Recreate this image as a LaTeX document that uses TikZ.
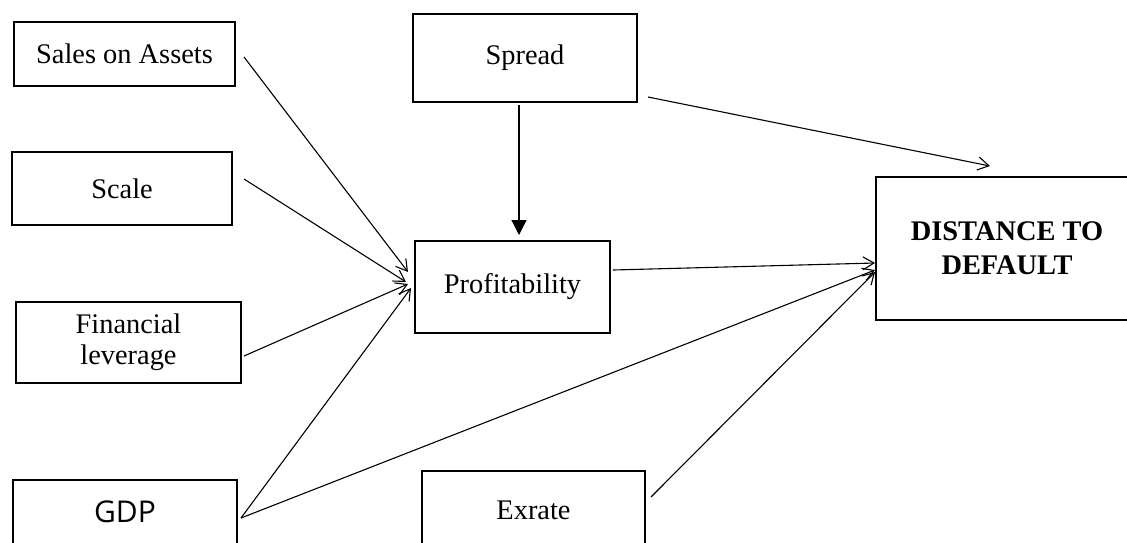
\documentclass[tikz,border=0pt]{standalone}
\usepackage{fontspec}
\setmainfont{Liberation Serif}
\usetikzlibrary{arrows.meta}
\newfontfamily\gdpfont{Open Sans}
\begin{document}
\begin{tikzpicture}[x=0.5pt,y=-0.5pt,
  box/.style={draw,line width=1pt,inner sep=0pt,align=center,
    font=\fontsize{14.2}{15.5}\selectfont},
  arr/.style={line width=0.55pt,-{Straight Barb[length=5.5pt,width=6.5pt,line width=0.55pt]}},
  farr/.style={line width=0.6pt,-{Triangle[length=7.5pt,width=7.5pt]}}]
\useasboundingbox (0,0) rectangle (1127,542);
\node[box,minimum width=221*0.5pt,minimum height=64*0.5pt] (sales) at (124.5,54) {Sales on Assets};
\node[box,minimum width=220*0.5pt,minimum height=73*0.5pt] (scale) at (122,188.5) {Scale};
\node[box,minimum width=225*0.5pt,minimum height=81*0.5pt] (finlev) at (128.5,342.5) {Financial\\leverage};
\node[box,minimum width=224*0.5pt,minimum height=64*0.5pt,font=\gdpfont\fontsize{15}{17}\selectfont] (gdp) at (125,512) {GDP};
\node[box,minimum width=224*0.5pt,minimum height=88*0.5pt] (spread) at (525,58) {Spread};
\node[box,minimum width=195*0.5pt,minimum height=92*0.5pt] (profit) at (512.5,287) {Profitability};
\node[box,minimum width=223*0.5pt,minimum height=79*0.5pt] (exrate) at (533.5,510.5) {Exrate};
\node[box,minimum width=262*0.5pt,minimum height=143*0.5pt,font=\bfseries\fontsize{14.2}{17}\selectfont] (dist) at (1007,248.5) {DISTANCE TO\\DEFAULT};

\draw[arr] ([shift={(8,3)}]sales.east) -- ([shift={(-6,-15)}]profit.west);
\draw[arr] ([shift={(11,-9.5)}]scale.east) -- ([shift={(-8,-5)}]profit.west);
\draw[arr] ([shift={(2,13.5)}]finlev.east) -- ([shift={(-6,-3)}]profit.west);
\draw[arr] ([shift={(3,6)}]gdp.east) -- ([shift={(-3,1)}]profit.west);
\draw[farr] ([shift={(-6,2)}]spread.south) -- ([shift={(6.5,-5)}]profit.north);
\draw[arr] ([shift={(10,39)}]spread.east) -- ([shift={(-17,-10)}]dist.north);
\draw[arr] ([shift={(2,-17)}]profit.east) -- ([shift={(0,14.5)}]dist.west);
\draw[arr] ([shift={(3,6)}]gdp.east) -- ([shift={(0,21.5)}]dist.west);
\draw[arr] ([shift={(5,-13.5)}]exrate.east) -- ([shift={(0,23.5)}]dist.west);
\end{tikzpicture}
\end{document}
